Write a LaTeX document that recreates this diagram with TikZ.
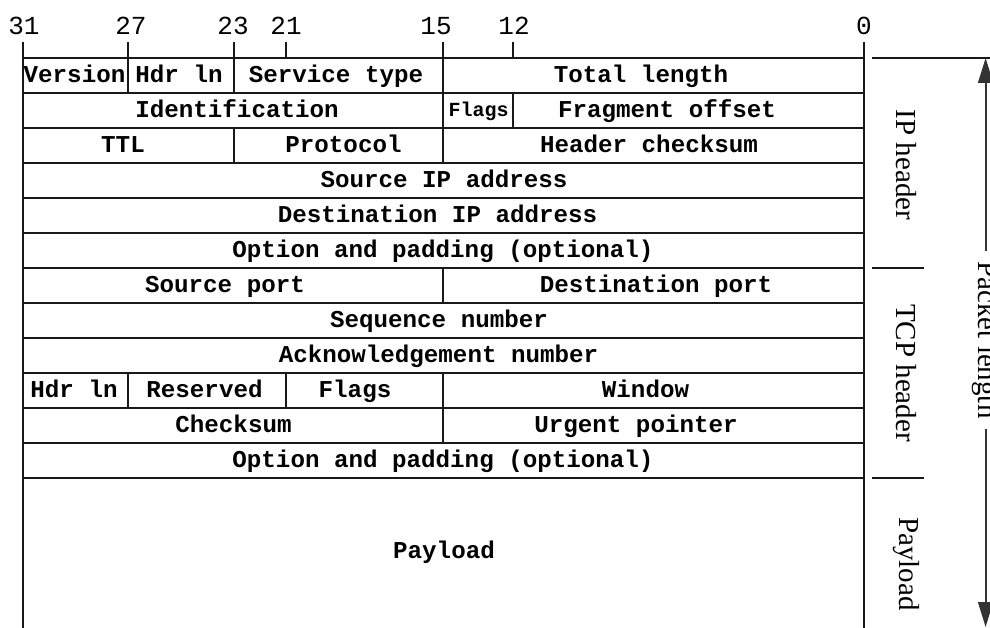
\documentclass[tikz,border=0pt]{standalone}
\usepackage{fontspec}
\setmainfont{Liberation Serif}
\setmonofont{Liberation Mono}
\usetikzlibrary{arrows.meta}
\tikzset{
  x=1pt, y=-1pt,
  grid/.style={line width=2.1pt, black!90},
  celltext/.style={font=\ttfamily\bfseries\fontsize{24.2}{24}\selectfont, inner sep=0pt, anchor=base},
  smallcell/.style={font=\ttfamily\bfseries\fontsize{20}{20}\selectfont, inner sep=0pt, anchor=base},
  bitnum/.style={font=\ttfamily\fontsize{26}{26}\selectfont, inner sep=0pt, anchor=base},
  sidelabel/.style={font=\rmfamily\fontsize{29}{29}\selectfont, rotate=-90, inner sep=0pt, anchor=center},
  lenarrow/.style={line width=2pt, black!80, {Triangle[length=25pt,width=15pt]}-{Triangle[length=25pt,width=15pt]}},
}
\begin{document}
\begin{tikzpicture}
\useasboundingbox (0,0) rectangle (990,628);
% bit numbers
\node[bitnum] (b31) at (24,35) {31};
\node[bitnum] (b27) at (131,35) {27};
\node[bitnum] (b23) at (233,35) {23};
\node[bitnum] (b21) at (286,35) {21};
\node[bitnum] (b15) at (436,35) {15};
\node[bitnum] (b12) at (514,35) {12};
\node[bitnum] (b0) at (864,35) {0};
% outer verticals and ticks
\draw[grid] (23,42) -- (23,628);
\draw[grid] (864,42) -- (864,628);
\foreach \x in {128,234,286,443,513} \draw[grid] (\x,42) -- (\x,58);
% horizontal row lines
\foreach \k in {0,...,12} \draw[grid] (23,{58+35*\k}) -- (864,{58+35*\k});
% row 1
\draw[grid] (128,58) -- (128,93) (234,58) -- (234,93) (443,58) -- (443,93);
\node[celltext] (ver) at (74.5,82.5) {Version};
\node[celltext] (hl1) at (179,82.5) {Hdr ln};
\node[celltext] (svc) at (336,82.5) {Service type};
\node[celltext] (tot) at (641,82.5) {Total length};
% row 2
\draw[grid] (443,93) -- (443,128) (513,93) -- (513,128);
\node[celltext] (ident) at (237,117.5) {Identification};
\node[smallcell] (ipflags) at (478.5,117) {Flags};
\node[celltext] (frag) at (667,117.5) {Fragment offset};
% row 3
\draw[grid] (234,128) -- (234,163) (443,128) -- (443,163);
\node[celltext] (ttl) at (123,152.5) {TTL};
\node[celltext] (proto) at (343.5,152.5) {Protocol};
\node[celltext] (hcs) at (649,152.5) {Header checksum};
% rows 4-6
\node[celltext] (srcip) at (444,187.5) {Source IP address};
\node[celltext] (dstip) at (437.5,222.5) {Destination IP address};
\node[celltext] (ipopt) at (443,257.5) {Option and padding (optional)};
% row 7
\draw[grid] (443,268) -- (443,303);
\node[celltext] (sport) at (225,292.5) {Source port};
\node[celltext] (dport) at (656,292.5) {Destination port};
% rows 8-9
\node[celltext] (seq) at (439,327.5) {Sequence number};
\node[celltext] (ack) at (438.5,362.5) {Acknowledgement number};
% row 10
\draw[grid] (128,373) -- (128,408) (286,373) -- (286,408) (443,373) -- (443,408);
\node[celltext] (hl2) at (74,397.5) {Hdr ln};
\node[celltext] (resv) at (204.5,397.5) {Reserved};
\node[celltext] (tflags) at (355,397.5) {Flags};
\node[celltext] (win) at (645.5,397.5) {Window};
% row 11
\draw[grid] (443,408) -- (443,443);
\node[celltext] (csum) at (233.5,432.5) {Checksum};
\node[celltext] (urg) at (636,432.5) {Urgent pointer};
% row 12
\node[celltext] (tcpopt) at (443,467.5) {Option and padding (optional)};
% payload
\node[celltext] (payload) at (444,558) {Payload};
% right side
\draw[grid] (872,58) -- (990,58);
\draw[grid] (872,268) -- (924,268);
\draw[grid] (872,478) -- (924,478);
\node[sidelabel] (iph) at (906,165) {IP header};
\node[sidelabel] (tcph) at (906,373) {TCP header};
\node[sidelabel] (pl) at (906,564) {Payload};
\coordinate (atop) at (985.6,58);
\coordinate (abot) at (985.6,627);
\draw[lenarrow] (atop) -- (abot);
\node[sidelabel, fill=white, inner sep=10pt] (plen) at (985,340) {Packet length};
\end{tikzpicture}
\end{document}
